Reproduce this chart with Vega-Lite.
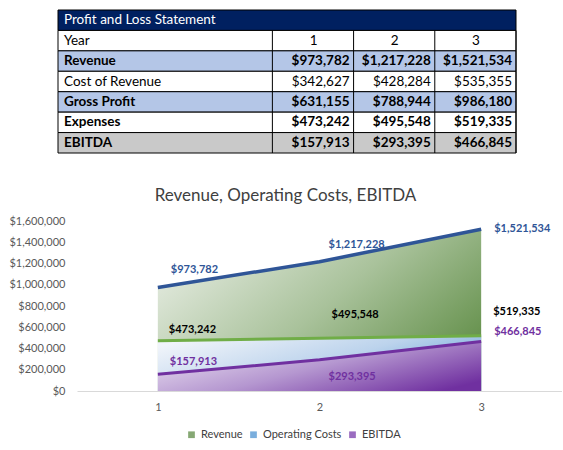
{
  "$schema": "https://vega.github.io/schema/vega-lite/v6.json",
  "background": "white",
  "padding": {"left": 8, "top": 9, "right": 0, "bottom": 0},
  "config": {"font": "Lato", "view": {"stroke": null}},
  "datasets": {
    "rows": [
      {"row": "Profit and Loss Statement"},
      {"row": "Year"},
      {"row": "Revenue"},
      {"row": "Cost of Revenue"},
      {"row": "Gross Profit"},
      {"row": "Expenses"},
      {"row": "EBITDA"}
    ],
    "pl": [
      {"item": "Revenue", "year": 1, "value": 973782},
      {"item": "Revenue", "year": 2, "value": 1217228},
      {"item": "Revenue", "year": 3, "value": 1521534},
      {"item": "Cost of Revenue", "year": 1, "value": 342627},
      {"item": "Cost of Revenue", "year": 2, "value": 428284},
      {"item": "Cost of Revenue", "year": 3, "value": 535355},
      {"item": "Gross Profit", "year": 1, "value": 631155},
      {"item": "Gross Profit", "year": 2, "value": 788944},
      {"item": "Gross Profit", "year": 3, "value": 986180},
      {"item": "Expenses", "year": 1, "value": 473242},
      {"item": "Expenses", "year": 2, "value": 495548},
      {"item": "Expenses", "year": 3, "value": 519335},
      {"item": "EBITDA", "year": 1, "value": 157913},
      {"item": "EBITDA", "year": 2, "value": 293395},
      {"item": "EBITDA", "year": 3, "value": 466845}
    ],
    "series": [
      {"series": "Revenue", "year": 1, "value": 973782},
      {"series": "Revenue", "year": 2, "value": 1217228},
      {"series": "Revenue", "year": 3, "value": 1521534},
      {"series": "Operating Costs", "year": 1, "value": 473242},
      {"series": "Operating Costs", "year": 2, "value": 495548},
      {"series": "Operating Costs", "year": 3, "value": 519335},
      {"series": "EBITDA", "year": 1, "value": 157913},
      {"series": "EBITDA", "year": 2, "value": 293395},
      {"series": "EBITDA", "year": 3, "value": 466845}
    ]
  },
  "vconcat": [
    {
      "width": 439,
      "height": 143,
      "encoding": {
        "y": {
          "field": "row", "type": "nominal", "axis": null,
          "scale": {
            "domain": ["Profit and Loss Statement", "Year", "Revenue", "Cost of Revenue", "Gross Profit", "Expenses", "EBITDA"],
            "paddingInner": 0, "paddingOuter": 0
          }
        }
      },
      "layer": [
        {
          "data": {"name": "rows"},
          "mark": {"type": "rect", "stroke": "#000000", "strokeWidth": 1},
          "encoding": {
            "x": {"datum": -2.64, "type": "quantitative", "axis": null, "scale": {"domain": [-2.64, 3], "range": [-19, 439], "nice": false, "zero": false}},
            "x2": {"datum": 3},
            "color": {
              "condition": [
                {"test": "datum.row === 'Profit and Loss Statement'", "value": "#002060"},
                {"test": "datum.row === 'Revenue' || datum.row === 'Gross Profit'", "value": "#b4c6e7"},
                {"test": "datum.row === 'EBITDA'", "value": "#c9c9c9"}
              ],
              "value": "#ffffff"
            }
          }
        },
        {
          "data": {"name": "pl"},
          "transform": [{"aggregate": [], "groupby": ["year"]}],
          "mark": {"type": "rule", "color": "#000000", "strokeWidth": 1},
          "encoding": {
            "x": {"field": "year", "type": "quantitative"},
            "y": {"datum": "Year", "bandPosition": 0},
            "y2": {"datum": "EBITDA", "bandPosition": 1}
          }
        },
        {
          "data": {"values": [{}]},
          "mark": {"type": "rule", "color": "#000000", "strokeWidth": 1},
          "encoding": {
            "x": {"datum": 0, "type": "quantitative"},
            "y": {"datum": "Year", "bandPosition": 0},
            "y2": {"datum": "EBITDA", "bandPosition": 1}
          }
        },
        {
          "data": {"name": "rows"},
          "transform": [{"filter": "datum.row === 'Profit and Loss Statement'"}],
          "mark": {"type": "text", "align": "left", "dx": 6, "fontSize": 13.5, "color": "#ffffff"},
          "encoding": {"x": {"datum": -2.64, "type": "quantitative"}, "text": {"field": "row"}}
        },
        {
          "data": {"name": "rows"},
          "transform": [{"filter": "datum.row === 'Year' || datum.row === 'Cost of Revenue'"}],
          "mark": {"type": "text", "align": "left", "dx": 6, "fontSize": 13.5, "color": "#000000"},
          "encoding": {"x": {"datum": -2.64, "type": "quantitative"}, "text": {"field": "row"}}
        },
        {
          "data": {"name": "rows"},
          "transform": [{"filter": "datum.row === 'Revenue' || datum.row === 'Gross Profit' || datum.row === 'Expenses' || datum.row === 'EBITDA'"}],
          "mark": {"type": "text", "align": "left", "dx": 6, "fontSize": 13.5, "fontWeight": "bold", "color": "#000000"},
          "encoding": {"x": {"datum": -2.64, "type": "quantitative"}, "text": {"field": "row"}}
        },
        {
          "data": {"name": "pl"},
          "transform": [{"aggregate": [], "groupby": ["year"]}],
          "mark": {"type": "text", "align": "center", "dx": -40, "fontSize": 13.5, "color": "#000000"},
          "encoding": {
            "x": {"field": "year", "type": "quantitative"},
            "y": {"datum": "Year"},
            "text": {"field": "year"}
          }
        },
        {
          "data": {"name": "pl"},
          "transform": [{"filter": "datum.item === 'Cost of Revenue'"}],
          "mark": {"type": "text", "align": "right", "dx": -4, "fontSize": 13.5, "color": "#000000"},
          "encoding": {
            "x": {"field": "year", "type": "quantitative"},
            "y": {"field": "item"},
            "text": {"field": "value", "format": "$,.0f"}
          }
        },
        {
          "data": {"name": "pl"},
          "transform": [{"filter": "datum.item !== 'Cost of Revenue'"}],
          "mark": {"type": "text", "align": "right", "dx": -4, "fontSize": 13.5, "fontWeight": "bold", "color": "#000000"},
          "encoding": {
            "x": {"field": "year", "type": "quantitative"},
            "y": {"field": "item"},
            "text": {"field": "value", "format": "$,.0f"}
          }
        }
      ]
    },
    {
      "data": {"name": "series"},
      "width": 485,
      "height": 170,
      "title": {"text": "Revenue, Operating Costs, EBITDA", "fontSize": 17, "fontWeight": "normal", "color": "#404040", "offset": 10, "frame": "bounds"},
      "encoding": {
        "x": {
          "field": "year", "type": "ordinal", "scale": {"type": "point", "padding": 0.5},
          "axis": {"title": null, "labelAngle": 0, "ticks": false, "domainColor": "#d9d9d9", "labelFontSize": 11, "labelColor": "#595959", "labelPadding": 10}
        },
        "y": {
          "field": "value", "type": "quantitative", "stack": null,
          "scale": {"domain": [0, 1600000]},
          "axis": {"title": null, "grid": false, "domain": false, "ticks": false, "format": "$,.0f", "values": [0, 200000, 400000, 600000, 800000, 1000000, 1200000, 1400000, 1600000], "labelFontSize": 11, "labelColor": "#595959", "labelPadding": 12}
        }
      },
      "layer": [
        {
          "transform": [{"filter": "datum.series === 'Revenue'"}],
          "mark": {"type": "area", "color": {"gradient": "linear", "x1": 0, "y1": 0.2, "x2": 1, "y2": 0.8, "stops": [{"offset": 0, "color": "#e6ece2"}, {"offset": 0.5, "color": "#a9c29b"}, {"offset": 1, "color": "#5e8c44"}]}}
        },
        {
          "transform": [{"filter": "datum.series === 'Operating Costs'"}],
          "mark": {"type": "area", "color": {"gradient": "linear", "x1": 0, "y1": 0.2, "x2": 1, "y2": 0.8, "stops": [{"offset": 0, "color": "#f0f4fa"}, {"offset": 0.5, "color": "#bcd3ec"}, {"offset": 1, "color": "#5b9bd5"}]}}
        },
        {
          "transform": [{"filter": "datum.series === 'EBITDA'"}],
          "mark": {"type": "area", "color": {"gradient": "linear", "x1": 0, "y1": 0.2, "x2": 1, "y2": 0.8, "stops": [{"offset": 0, "color": "#ebe2f2"}, {"offset": 0.5, "color": "#b597d0"}, {"offset": 1, "color": "#7030a0"}]}}
        },
        {
          "mark": {"type": "square", "opacity": 0},
          "encoding": {
            "color": {
              "field": "series", "type": "nominal",
              "scale": {"domain": ["Revenue", "Operating Costs", "EBITDA"], "range": ["#86a874", "#7aaedd", "#9a6cc0"]},
              "legend": {"title": null, "orient": "none", "legendX": 109, "legendY": 419, "direction": "horizontal", "symbolType": "square", "symbolSize": 45, "symbolOpacity": 1, "symbolStrokeWidth": 0, "labelFontSize": 11, "labelColor": "#404040", "labelOffset": 4, "columnPadding": 5}
            }
          }
        },
        {
          "transform": [{"filter": "datum.series === 'Revenue'"}],
          "mark": {"type": "line", "color": "#2f5597", "strokeWidth": 3.5}
        },
        {
          "transform": [{"filter": "datum.series === 'Operating Costs'"}],
          "mark": {"type": "line", "color": "#70ad47", "strokeWidth": 3}
        },
        {
          "transform": [{"filter": "datum.series === 'EBITDA'"}],
          "mark": {"type": "line", "color": "#7030a0", "strokeWidth": 3}
        },
        {
          "transform": [{"filter": "datum.series === 'Revenue' && datum.year === 1"}],
          "mark": {"type": "text", "align": "left", "baseline": "middle", "dx": 13, "dy": -18, "fontSize": 11, "fontWeight": "bold", "color": "#2f5597"},
          "encoding": {"text": {"field": "value", "format": "$,.0f"}}
        },
        {
          "transform": [{"filter": "datum.series === 'Revenue' && datum.year === 2"}],
          "mark": {"type": "text", "align": "left", "baseline": "middle", "dx": 9, "dy": -17, "fontSize": 11, "fontWeight": "bold", "color": "#2f5597"},
          "encoding": {"text": {"field": "value", "format": "$,.0f"}}
        },
        {
          "transform": [{"filter": "datum.series === 'Revenue' && datum.year === 3"}],
          "mark": {"type": "text", "align": "left", "baseline": "middle", "dx": 13, "dy": 0, "fontSize": 11, "fontWeight": "bold", "color": "#2f5597"},
          "encoding": {"text": {"field": "value", "format": "$,.0f"}}
        },
        {
          "transform": [{"filter": "datum.series === 'Operating Costs' && datum.year === 1"}],
          "mark": {"type": "text", "align": "left", "baseline": "middle", "dx": 11, "dy": -11, "fontSize": 11, "fontWeight": "bold", "color": "#000000"},
          "encoding": {"text": {"field": "value", "format": "$,.0f"}}
        },
        {
          "transform": [{"filter": "datum.series === 'Operating Costs' && datum.year === 2"}],
          "mark": {"type": "text", "align": "left", "baseline": "middle", "dx": 12, "dy": -23, "fontSize": 11, "fontWeight": "bold", "color": "#000000"},
          "encoding": {"text": {"field": "value", "format": "$,.0f"}}
        },
        {
          "transform": [{"filter": "datum.series === 'Operating Costs' && datum.year === 3"}],
          "mark": {"type": "text", "align": "left", "baseline": "middle", "dx": 12, "dy": -24, "fontSize": 11, "fontWeight": "bold", "color": "#000000"},
          "encoding": {"text": {"field": "value", "format": "$,.0f"}}
        },
        {
          "transform": [{"filter": "datum.series === 'EBITDA' && datum.year === 1"}],
          "mark": {"type": "text", "align": "left", "baseline": "middle", "dx": 12, "dy": -12, "fontSize": 11, "fontWeight": "bold", "color": "#7030a0"},
          "encoding": {"text": {"field": "value", "format": "$,.0f"}}
        },
        {
          "transform": [{"filter": "datum.series === 'EBITDA' && datum.year === 2"}],
          "mark": {"type": "text", "align": "left", "baseline": "middle", "dx": 9, "dy": 17, "fontSize": 11, "fontWeight": "bold", "color": "#7030a0"},
          "encoding": {"text": {"field": "value", "format": "$,.0f"}}
        },
        {
          "transform": [{"filter": "datum.series === 'EBITDA' && datum.year === 3"}],
          "mark": {"type": "text", "align": "left", "baseline": "middle", "dx": 13, "dy": -9, "fontSize": 11, "fontWeight": "bold", "color": "#7030a0"},
          "encoding": {"text": {"field": "value", "format": "$,.0f"}}
        }
      ]
    }
  ],
  "spacing": 33
}
